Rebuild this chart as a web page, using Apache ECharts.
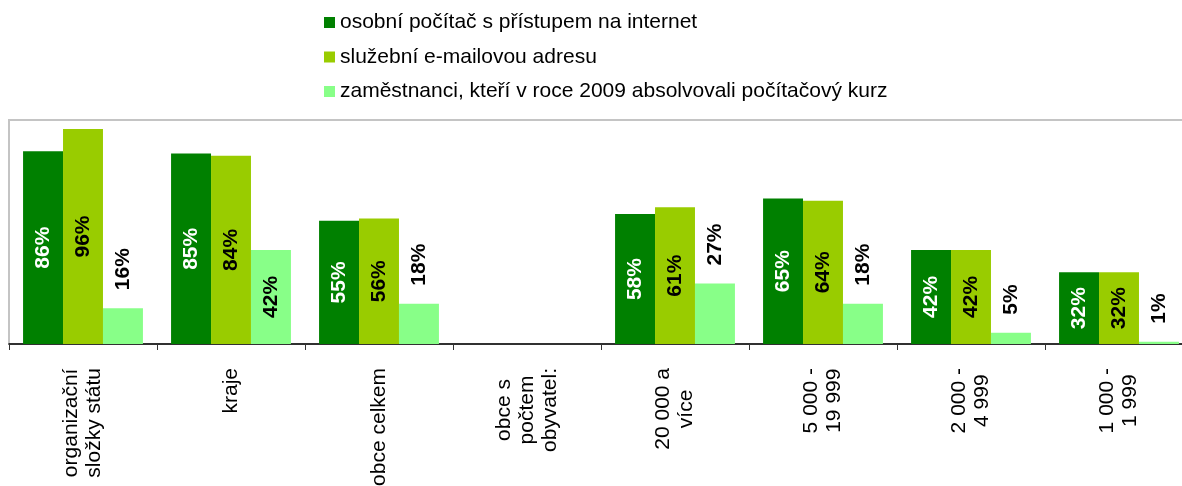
<!DOCTYPE html>
<html>
<head>
<meta charset="utf-8">
<script src="https://cdn.jsdelivr.net/npm/echarts@6/dist/echarts.min.js"></script>
<style>
  html, body { margin: 0; padding: 0; background: #fff; }
  #chart { width: 1182px; height: 486px; }
</style>
</head>
<body>
<div id="chart"></div>
<script>
const categories = [
  "organizační\nsložky státu",
  "kraje",
  "obce celkem",
  "obce s\npočtem\nobyvatel:",
  "20 000 a\nvíce",
  "5 000 -\n19 999",
  "2 000 -\n4 999",
  "1 000 -\n1 999",
];
const seriesNames = [
  "osobní počítač s přístupem na internet",
  "služební e-mailovou adresu",
  "zaměstnanci, kteří v roce 2009 absolvovali počítačový kurz",
];
const pcInternet = [86, 85, 55, null, 58, 65, 42, 32];
const email = [96, 84, 56, null, 61, 64, 42, 32];
const course = [16, 42, 18, null, 27, 18, 5, 1];

const colors = ["#008000", "#99cc00", "#88ff88"];
const font = "'Liberation Sans', Arial, sans-serif";

const chart = echarts.init(document.getElementById("chart"));

// labels sit inside the bar when it is tall enough, otherwise above it
function courseData(values) {
  return values.map(function (v) {
    if (v == null) return null;
    if (v >= 40) {
      return { value: v, label: { position: "inside", align: "center" } };
    }
    return v;
  });
}

const labelBase = {
  show: true,
  rotate: 90,
  fontFamily: font,
  fontSize: 21,
  fontWeight: "bold",
  formatter: "{c}%",
};

const option = {
  animation: false,
  color: colors,
  legend: {
    orient: "vertical",
    left: 324,
    top: 12,
    padding: 0,
    itemWidth: 11,
    itemHeight: 11,
    itemGap: 13.5,
    icon: "rect",
    textStyle: { fontFamily: font, fontSize: 21, color: "#000" },
    data: seriesNames,
  },
  grid: {
    left: 9,
    top: 120,
    width: 1184,
    height: 224,
    outerBoundsMode: "none",
    containLabel: false,
    show: true,
    borderColor: "#c4c4c4",
    borderWidth: 2,
    backgroundColor: "#fff",
  },
  xAxis: {
    type: "category",
    data: categories,
    axisLine: { lineStyle: { color: "#000", width: 1.5 } },
    axisTick: { show: true, length: 6, lineStyle: { color: "#333" } },
    axisLabel: {
      interval: 0,
      rotate: 90,
      margin: 24,
      formatter: function (value) {
        return value.split("\n").map(function (s) {
          return "{c|" + s + "}";
        }).join("\n");
      },
      rich: {
        c: {
          align: "center",
          fontFamily: font,
          fontSize: 21,
          lineHeight: 23,
          color: "#000",
        },
      },
    },
  },
  yAxis: {
    type: "value",
    min: 0,
    max: 100,
    show: false,
  },
  series: [
    {
      name: seriesNames[0],
      type: "bar",
      barGap: "0%",
      barCategoryGap: "19%",
      data: pcInternet,
      label: Object.assign({}, labelBase, { position: "inside", color: "#fff" }),
    },
    {
      name: seriesNames[1],
      type: "bar",
      data: email,
      label: Object.assign({}, labelBase, { position: "inside", color: "#000" }),
    },
    {
      name: seriesNames[2],
      type: "bar",
      data: courseData(course),
      label: Object.assign({}, labelBase, {
        position: "top",
        align: "left",
        verticalAlign: "middle",
        distance: 18,
        color: "#000",
      }),
    },
  ],
};

chart.setOption(option);
</script>
</body>
</html>
